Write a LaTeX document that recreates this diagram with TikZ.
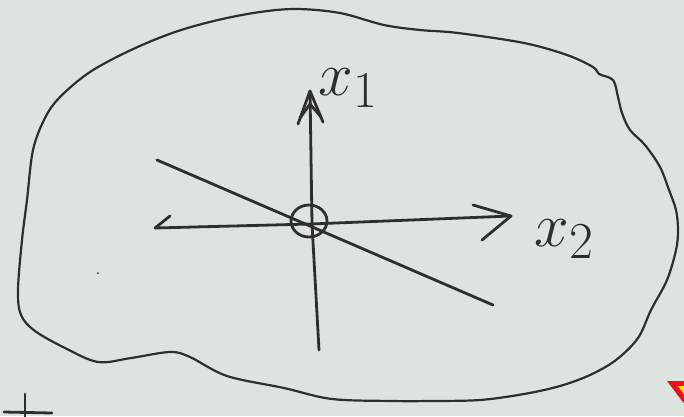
\documentclass[tikz,border=0pt]{standalone}
\usepackage{xcolor}
\definecolor{paper}{RGB}{221,228,224}
\definecolor{inkc}{RGB}{45,47,47}
\definecolor{warnred}{RGB}{250,10,10}
\definecolor{warnyel}{RGB}{255,235,0}
\tikzset{
  pen/.style={draw=inkc, line width=2.8pt, line cap=round, line join=round},
  lbl/.style={text=inkc, inner sep=0pt, font=\Huge, scale=2.5},
}
\begin{document}
\begin{tikzpicture}[x=1pt,y=-1pt]
\useasboundingbox (0,0) rectangle (684,416);
\fill[paper] (0,0) rectangle (684,416);
\begin{scope}
\clip (0,0) rectangle (684,416);
% blob
\draw[pen, line width=2.2pt] plot[smooth cycle, tension=0.55] coordinates {
 (18,290) (22,240) (27,200) (33,150) (45,118) (60,97) (90,72) (131,50)
 (175,32) (218,20) (260,12) (297,9) (340,13) (384,25) (420,30) (458,33)
 (524,43) (567,55) (593,67) (599,74) (613,80) (618,97) (622,113) (630,130)
 (645,145) (660,167) (669,190) (676,210) (678,230) (676,250) (667,280)
 (651,310) (638,338) (616,360) (590,375) (560,386) (524,394) (480,400)
 (430,401) (393,401) (332,399) (284,388) (227,376) (190,357) (170,352)
 (131,358) (98,362) (65,348) (35,331) (21,315)};
% origin
\coordinate (O) at (311,224);
\coordinate (ytop) at (310,91);
\coordinate (ybot) at (319,350);
\coordinate (xl) at (155,228);
\coordinate (xr) at (511,216);
\coordinate (dl) at (157,160);
\coordinate (dr) at (493,305);
% diagonal
\draw[pen] (dl) -- (dr);
% vertical axis x1
\draw[pen] (ybot) -- (312,224) -- (ytop);
\draw[pen] (298,124) -- (ytop) -- (323,122);
\draw[pen] (300,118) -- (310,104) -- (321,117);
% horizontal axis x2
\draw[pen] (xl) -- (O) -- (xr);
\draw[pen] (xl) -- (170,216);
\draw[pen] (473,205) -- (xr) -- (482,240);
% circle at origin
\draw[pen] (O) ++(-2,-3) ellipse [x radius=18, y radius=16];
% labels
\node[lbl, anchor=base west] (lx1) at (318,95) {$x_1$};
\node[lbl, anchor=base west] (lx2) at (534,246) {$x_2$};
% speck
\fill[inkc] (98,273) circle (1);
% plus mark at bottom left
\draw[pen] (25,394) -- (25,420);
\draw[pen] (4,412) -- (52,413);
% red warning corner
\fill[warnred] (667,381) -- (700,381) -- (692,414) -- cycle;
\fill[warnyel] (678,386) -- (700,386) -- (692,406) -- cycle;
\end{scope}
\end{tikzpicture}
\end{document}
